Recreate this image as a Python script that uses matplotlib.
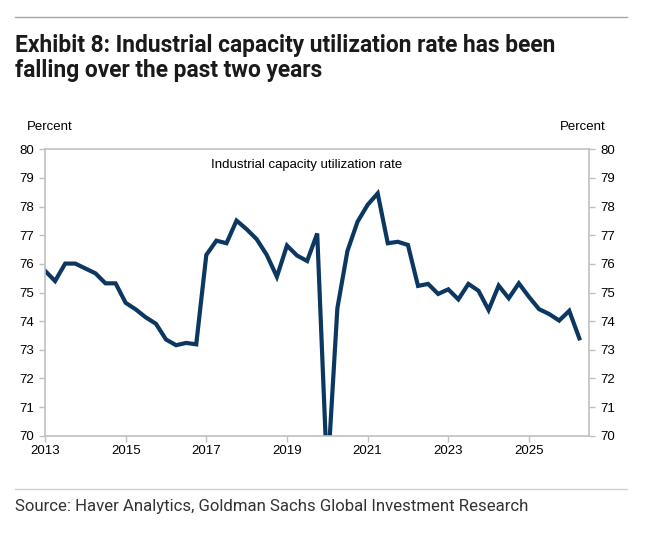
import matplotlib
matplotlib.use("Agg")
import matplotlib.pyplot as plt
from matplotlib import font_manager
import numpy as np

# Quarterly industrial capacity utilization rate, 2013Q1 - 2026Q2
start_year = 2013
values = [
    75.76, 75.40, 76.01, 76.01, 75.84, 75.67, 75.32, 75.32,   # 2013-2014
    74.64, 74.41, 74.13, 73.91, 73.36, 73.16, 73.24, 73.19,   # 2015-2016
    76.31, 76.81, 76.72, 77.51, 77.21, 76.86, 76.31, 75.55,   # 2017-2018
    76.64, 76.29, 76.10, 77.06, 68.50, 74.45, 76.45, 77.47,   # 2019-2020
    78.06, 78.46, 76.72, 76.77, 76.66, 75.23, 75.30, 74.95,   # 2021-2022
    75.11, 74.76, 75.30, 75.06, 74.39, 75.24, 74.80, 75.32,   # 2023-2024
    74.85, 74.42, 74.25, 74.02, 74.36, 73.40,                 # 2025-2026
]
x_ticks = [2013, 2015, 2017, 2019, 2021, 2023, 2025]
y_ticks = list(range(70, 81))

title = "Exhibit 8: Industrial capacity utilization rate has been\nfalling over the past two years"
source = "Source: Haver Analytics, Goldman Sachs Global Investment Research"
series_label = "Industrial capacity utilization rate"

dates = start_year + np.arange(len(values)) * 0.25


def have_font(name):
    try:
        font_manager.findfont(name, fallback_to_default=False)
        return True
    except Exception:
        return False


# condensed font for the title and source if we have one
if have_font("Liberation Sans Narrow"):
    head_font, title_size, src_size = "Liberation Sans Narrow", 15.5, 13
else:
    head_font, title_size, src_size = "Roboto", 16.4, 12.1

plt.rcParams["font.family"] = ["Liberation Sans", "DejaVu Sans"]
navy = "#0b3760"
grey = "#c0c0c0"

fig = plt.figure(figsize=(6.72, 5.42), dpi=100)
ax = fig.add_axes([45 / 672, 1 - 435.7 / 542, 544 / 672, 286.4 / 542])

ax.plot(dates, values, color=navy, lw=3, solid_joinstyle="miter", clip_on=True)
ax.set_xlim(2013, 2026.49)
ax.set_ylim(70, 80)
ax.set_xticks(x_ticks)
ax.set_yticks(y_ticks)
ax.tick_params(axis="both", colors=grey, labelcolor="black", labelsize=9.5,
               length=4, width=1, direction="out")
ax.tick_params(axis="y", labelright=True, right=True, pad=4)
ax.tick_params(axis="x", pad=3)
for s in ax.spines.values():
    s.set_color(grey)
    s.set_linewidth(1.2)

ax.text((307 - 45) / 544, 0.945, series_label, transform=ax.transAxes, ha="center",
        va="center", fontsize=9.5)

fig.text(27 / 672, 1 - 127.5 / 542, "Percent", ha="left", va="center", fontsize=9.5)
fig.text(606 / 672, 1 - 127.5 / 542, "Percent", ha="right", va="center", fontsize=9.5)

# title, rules and source
fig.add_artist(plt.Line2D([15 / 672, 627 / 672], [1 - 17 / 542] * 2, color="#a6a6a6", lw=1))
fig.text(15 / 672, 1 - 58 / 542, title, ha="left", va="center", fontsize=title_size,
         fontweight="bold", family=head_font, color="#1a1a1a", linespacing=1.15)
fig.add_artist(plt.Line2D([15 / 672, 627 / 672], [1 - 489 / 542] * 2, color="#d0d0d0", lw=1))
fig.text(15 / 672, 1 - 507 / 542, source, ha="left", va="center", fontsize=src_size,
         family=head_font, color="#333333")

fig.savefig("out.png", dpi=100)
